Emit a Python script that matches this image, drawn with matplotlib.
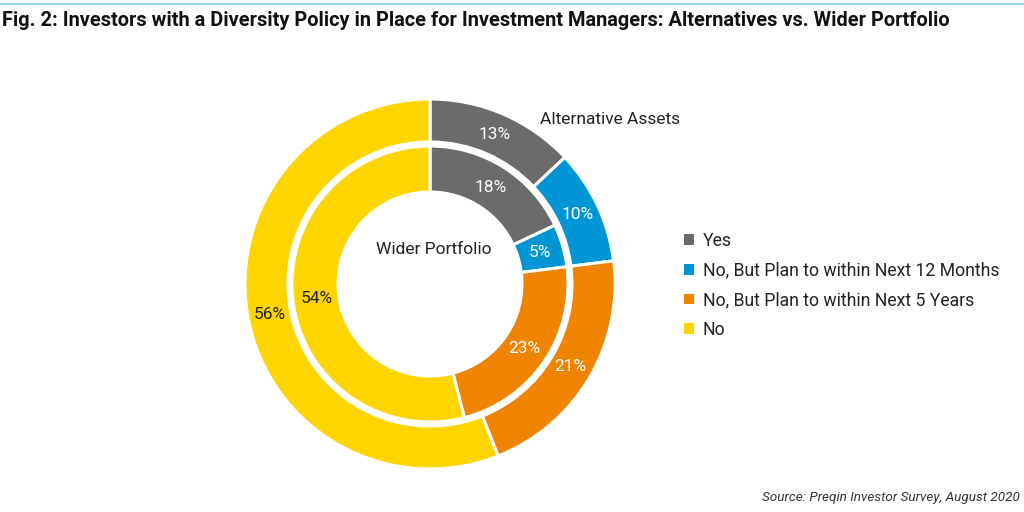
import matplotlib
matplotlib.use("Agg")
import matplotlib.pyplot as plt
from matplotlib.lines import Line2D
from matplotlib.patches import Patch
import numpy as np

categories = ["Yes", "No, But Plan to within Next 12 Months",
              "No, But Plan to within Next 5 Years", "No"]
alternatives = [13, 10, 21, 56]
wider = [18, 5, 23, 54]
colors = ["#6d6a6a", "#0096d6", "#f08300", "#ffd500"]
label_colors = ["white", "white", "white", "#222222"]

plt.rcParams['font.family'] = ['Roboto', 'DejaVu Sans']

fig = plt.figure(figsize=(10.24, 5.12), dpi=100)
fig.patch.set_facecolor("white")
ax = fig.add_axes([0, 0, 1, 1])

cx, cy = 430, 512 - 284
r_out = 185
w_out = 43
r_in = 138
w_in = 46

ax.pie(alternatives, colors=colors, radius=r_out, center=(cx, cy),
       startangle=90, counterclock=False, frame=True,
       wedgeprops=dict(width=w_out, edgecolor="white", linewidth=2.2))
ax.pie(wider, colors=colors, radius=r_in, center=(cx, cy),
       startangle=90, counterclock=False, frame=True,
       wedgeprops=dict(width=w_in, edgecolor="white", linewidth=2.2))
ax.set_xlim(0, 1024)
ax.set_ylim(0, 512)
ax.set_aspect("equal")
ax.axis("off")


def place_labels(values, radius):
    start = 90.0
    total = sum(values)
    for v, c in zip(values, label_colors):
        ang = start - v / total * 360 / 2
        start -= v / total * 360
        x = cx + radius * np.cos(np.radians(ang))
        y = cy + radius * np.sin(np.radians(ang))
        ax.text(x, y, f"{v}%", ha="center", va="center", fontsize=12.5, color=c)


place_labels(alternatives, 163)
place_labels(wider, 114)

ax.text(540, 512 - 120, "Alternative Assets", ha="left", va="center", fontsize=12.5, color="#222222")
ax.text(434, 512 - 250, "Wider Portfolio", ha="center", va="center", fontsize=12.5, color="#222222")

# legend
handles = [Patch(facecolor=c, edgecolor="none") for c in colors]
leg = fig.legend(handles, categories, loc="upper left", bbox_to_anchor=(684 / 1024, 1 - 232 / 512),
                 frameon=False, fontsize=12.7, handlelength=0.55, handleheight=0.55,
                 handletextpad=0.5, labelspacing=0.655, borderaxespad=0, borderpad=0)
for t in leg.get_texts():
    t.set_color("#222222")

# top line
fig.add_artist(Line2D([0, 1], [1 - 4 / 512, 1 - 4 / 512], color="#7cc6ea", linewidth=1.2,
                      transform=fig.transFigure))
fig.text(2 / 1024, 1 - 20 / 512, "Fig. 2: Investors with a Diversity Policy in Place for Investment Managers: Alternatives vs. Wider Portfolio",
         ha="left", va="center", fontsize=14.4, fontweight="bold", color="#111111")
fig.text(1020 / 1024, 1 - 497 / 512, "Source: Preqin Investor Survey, August 2020",
         ha="right", va="center", fontsize=9.7, style="italic", color="#333333")

fig.savefig("out.png", dpi=100)
